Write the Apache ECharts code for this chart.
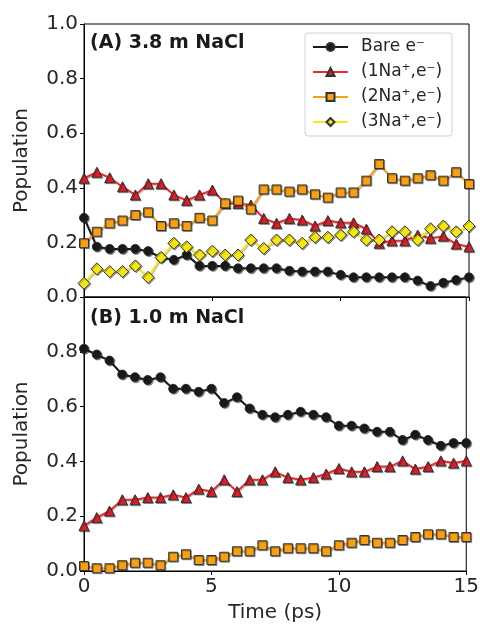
<!DOCTYPE html>
<html>
<head>
<meta charset="utf-8">
<script src="https://cdn.jsdelivr.net/npm/echarts@6/dist/echarts.min.js"></script>
<style>
html,body{margin:0;padding:0;background:#fff;}
#chart{width:482px;height:624px;}
</style>
</head>
<body>
<div id="chart"></div>
<script>
var time = [0,0.5,1,1.5,2,2.5,3,3.5,4,4.5,5,5.5,6,6.5,7,7.5,8,8.5,9,9.5,10,10.5,11,11.5,12,12.5,13,13.5,14,14.5,15];
var xTicks = [0,5,10,15];
var yTicks = [0,0.2,0.4,0.6,0.8,1.0];
var seriesNames = ['Bare e\u207B','(1Na\u207A,e\u207B)','(2Na\u207A,e\u207B)','(3Na\u207A,e\u207B)'];
var panelLabels = ['(A) 3.8 m NaCl','(B) 1.0 m NaCl'];

// Panel A: 3.8 m NaCl
var bareA = [0.290,0.184,0.176,0.176,0.176,0.168,0.145,0.136,0.154,0.114,0.114,0.114,0.105,0.105,0.105,0.105,0.096,0.093,0.093,0.093,0.081,0.072,0.072,0.072,0.072,0.072,0.060,0.040,0.052,0.062,0.072];
var na1A = [0.435,0.457,0.437,0.404,0.374,0.415,0.415,0.374,0.354,0.374,0.392,0.343,0.343,0.337,0.288,0.270,0.288,0.282,0.260,0.280,0.272,0.272,0.249,0.197,0.206,0.206,0.227,0.215,0.223,0.194,0.184];
var na2A = [0.197,0.239,0.270,0.280,0.300,0.310,0.260,0.270,0.260,0.290,0.280,0.343,0.353,0.321,0.394,0.394,0.386,0.394,0.376,0.364,0.383,0.383,0.426,0.487,0.435,0.426,0.435,0.446,0.426,0.457,0.414];
var na3A = [0.050,0.103,0.093,0.093,0.114,0.072,0.145,0.197,0.184,0.154,0.168,0.154,0.154,0.209,0.178,0.209,0.209,0.197,0.219,0.219,0.227,0.239,0.209,0.209,0.239,0.239,0.209,0.250,0.260,0.239,0.260];

// Panel B: 1.0 m NaCl
var bareB = [0.811,0.790,0.768,0.717,0.707,0.697,0.707,0.665,0.665,0.654,0.665,0.613,0.634,0.593,0.570,0.561,0.570,0.581,0.570,0.561,0.530,0.530,0.520,0.508,0.508,0.478,0.497,0.478,0.457,0.467,0.467];
var na1B = [0.165,0.195,0.219,0.260,0.260,0.268,0.268,0.278,0.268,0.299,0.290,0.333,0.290,0.333,0.333,0.362,0.341,0.333,0.341,0.354,0.374,0.362,0.362,0.381,0.381,0.402,0.372,0.381,0.402,0.394,0.402];
var na2B = [0.018,0.010,0.010,0.021,0.030,0.030,0.021,0.052,0.061,0.040,0.040,0.052,0.072,0.072,0.094,0.072,0.083,0.083,0.083,0.072,0.094,0.103,0.113,0.103,0.103,0.113,0.124,0.134,0.134,0.124,0.124];

function pairs(vals){ return time.map(function(t,i){ return [t, vals[i]]; }); }

var FONT = 'DejaVu Sans';
var TXT = '#262626';
var styles = [
  {line:'#1a1a1a', fill:'#1a1a1a', symbol:'circle', size:9},
  {line:'#ee2a2e', fill:'#d9202a', symbol:'triangle', size:10},
  {line:'#f7a21c', fill:'#f5a01a', symbol:'rect', size:9},
  {line:'#f8e71c', fill:'#f4e41a', symbol:'diamond', size:12}
];

function mkSeries(k, vals, axisIdx){
  var s = styles[k];
  return {
    name: seriesNames[k], type:'line', xAxisIndex:axisIdx, yAxisIndex:axisIdx,
    data: pairs(vals), symbol: s.symbol, symbolSize: s.size, showSymbol:true,
    lineStyle:{color:s.line, width:2, shadowColor:'rgba(0,0,0,0.25)', shadowOffsetX:1, shadowOffsetY:1},
    itemStyle:{color:s.fill, borderColor:'#333', borderWidth:1, shadowColor:'rgba(0,0,0,0.35)', shadowOffsetX:1, shadowOffsetY:1},
    emphasis:{disabled:true}, animation:false, z: 2+k
  };
}

function xAx(idx, showLabels){
  return {
    type:'value', gridIndex:idx, min:0, max:15, interval:5,
    axisLine:{show:true, onZero:false, lineStyle:{color:'#000', width:1}},
    axisTick:{show:true, inside:false, length:4, lineStyle:{color:'#000'}},
    axisLabel:{show:showLabels, fontFamily:FONT, fontSize:20, color:TXT, margin:6},
    splitLine:{show:false},
    name: showLabels ? 'Time (ps)' : '', nameLocation:'middle', nameGap:32,
    nameTextStyle:{fontFamily:FONT, fontSize:20, color:TXT}
  };
}
function yAx(idx, hideTop){
  return {
    type:'value', gridIndex:idx, min:0, max:1, interval:0.2,
    axisLine:{show:true, onZero:false, lineStyle:{color:'#000', width:1}},
    axisTick:{show:true, inside:false, length:4, lineStyle:{color:'#000'}},
    axisLabel:{fontFamily:FONT, fontSize:20, color:TXT, margin:6,
      formatter:function(v){ if(hideTop && v>=0.999) return ''; return v.toFixed(1); }},
    splitLine:{show:false},
    name:'Population', nameLocation:'middle', nameGap:52, nameRotate:90,
    nameTextStyle:{fontFamily:FONT, fontSize:20, color:TXT}
  };
}

var chart = echarts.init(document.getElementById('chart'), null, {renderer:'canvas'});
chart.setOption({
  backgroundColor:'#fff',
  animation:false,
  grid:[
    {left:84, top:24, width:385, height:273, show:true, borderColor:'#000', borderWidth:1, backgroundColor:'transparent'},
    {left:84, top:297, width:385, height:274, show:true, borderColor:'#000', borderWidth:1, backgroundColor:'transparent'}
  ],
  xAxis:[xAx(0,false), xAx(1,true)],
  yAxis:[yAx(0,false), yAx(1,true)],
  legend:{
    data: seriesNames, orient:'vertical', left:305, top:33,
    padding:[5,10,5,7], itemGap:7, itemWidth:35, itemHeight:10,
    backgroundColor:'#fff', borderColor:'#d0d0d0', borderWidth:1, borderRadius:3,
    textStyle:{fontFamily:FONT, fontSize:17, color:TXT, padding:[0,0,0,8], lineHeight:18},
    selectedMode:false
  },
  graphic:[
    {type:'text', left:90, top:34, style:{text:panelLabels[0], font:'bold 19px "DejaVu Sans"', fill:'#1a1a1a'}},
    {type:'text', left:90, top:309, style:{text:panelLabels[1], font:'bold 19px "DejaVu Sans"', fill:'#1a1a1a'}}
  ],
  series:[
    mkSeries(0, bareA, 0), mkSeries(1, na1A, 0), mkSeries(2, na2A, 0), mkSeries(3, na3A, 0),
    mkSeries(0, bareB, 1), mkSeries(1, na1B, 1), mkSeries(2, na2B, 1)
  ]
});
</script>
</body>
</html>
